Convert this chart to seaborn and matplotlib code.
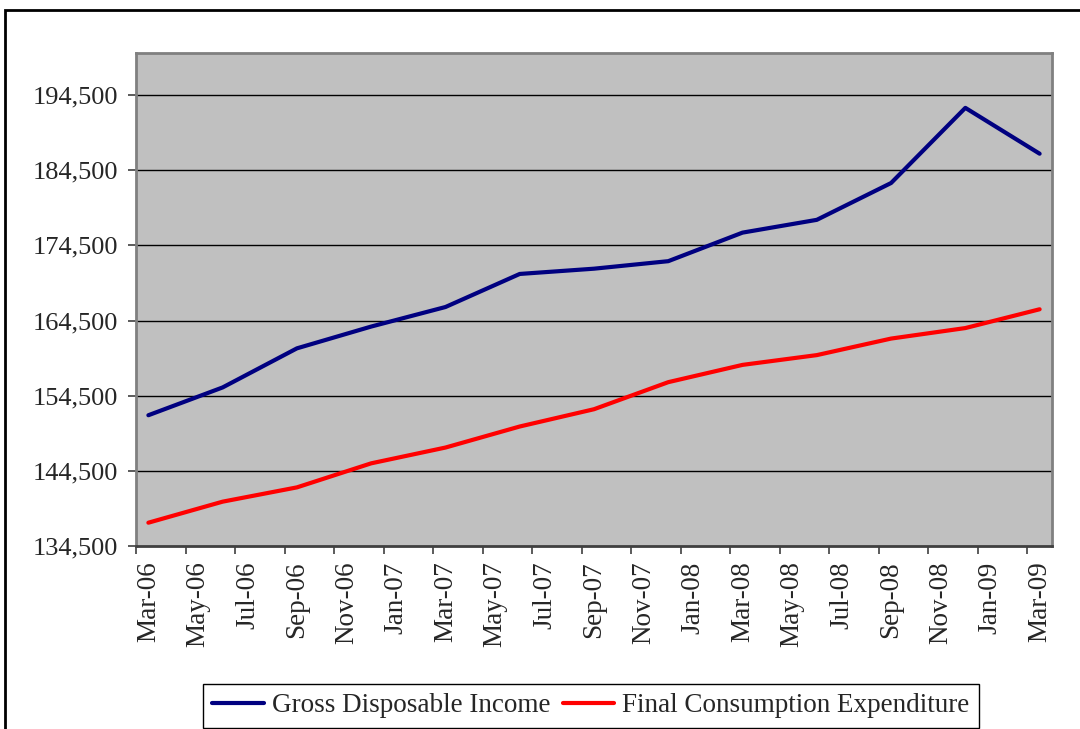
import matplotlib
matplotlib.use("Agg")
import matplotlib.pyplot as plt
import matplotlib.patches as mpatches
import seaborn as sns
import pandas as pd
import numpy as np

# ---- data ----
quarters = ["Mar-06", "Jun-06", "Sep-06", "Dec-06", "Mar-07", "Jun-07", "Sep-07",
            "Dec-07", "Mar-08", "Jun-08", "Sep-08", "Dec-08", "Mar-09"]
gross_disposable_income = [151900, 155600, 160800, 163700, 166300, 170700, 171400,
                           172400, 176200, 177900, 182800, 192800, 186700]
final_consumption_expenditure = [137600, 140400, 142300, 145500, 147600, 150400, 152700,
                                 156300, 158600, 159900, 162100, 163500, 166000]
tick_labels = ["Mar-06", "May-06", "Jul-06", "Sep-06", "Nov-06", "Jan-07", "Mar-07",
               "May-07", "Jul-07", "Sep-07", "Nov-07", "Jan-08", "Mar-08", "May-08",
               "Jul-08", "Sep-08", "Nov-08", "Jan-09", "Mar-09"]
y_ticks = [134500, 144500, 154500, 164500, 174500, 184500, 194500]
series_names = ["Gross Disposable Income", "Final Consumption Expenditure"]


def month_index(labels):
    d = pd.to_datetime(labels, format="%b-%y")
    return (d.year - 2006) * 12 + d.month - 3


xq = month_index(quarters)
df = pd.DataFrame({
    "x": np.concatenate([xq, xq]),
    "value": gross_disposable_income + final_consumption_expenditure,
    "series": [series_names[0]] * len(quarters) + [series_names[1]] * len(quarters),
})

sns.set_style("white")
plt.rcParams["font.family"] = ["Liberation Serif", "DejaVu Serif"]

fig = plt.figure(figsize=(10.8, 7.29), dpi=100)
ax = fig.add_axes([136 / 1080, 1 - 546 / 729, (1052 - 136) / 1080, (546 - 53) / 729])

sns.lineplot(data=df, x="x", y="value", hue="series", hue_order=series_names,
             palette=["#000080", "#FF0000"], linewidth=3.0, ax=ax, legend=True)

ax.set_facecolor("#C0C0C0")
ax.set_xlim(-0.5, 36.5)
ax.set_ylim(134500, 200100)
ax.set_yticks(y_ticks)
ax.set_yticklabels([f"{v:,}" for v in y_ticks])
xt = month_index(tick_labels)
ax.set_xticks(xt)
ax.set_xticklabels(tick_labels, rotation=90)
ax.set_xticks(np.arange(-0.5, 36, 2), minor=True)
ax.tick_params(axis="x", which="major", length=0, pad=11, labelsize=19.5)
ax.tick_params(axis="x", which="minor", length=6, width=1.2, color="#404040", direction="out", bottom=True)
ax.tick_params(axis="y", which="major", length=6, width=1.2, color="#404040", direction="out",
               left=True, pad=7, labelsize=19)
ax.set_xlabel("")
ax.set_ylabel("")
ax.grid(False)
for v in y_ticks[1:]:
    ax.axhline(v, color="black", linewidth=1.0, zorder=1)
for side in ["left", "right", "top", "bottom"]:
    ax.spines[side].set_visible(True)
    ax.spines[side].set_color("#808080")
    ax.spines[side].set_linewidth(2.0)
ax.spines["bottom"].set_color("#404040")

leg = ax.get_legend()
handles, labels = ax.get_legend_handles_labels()
leg.remove()
for h in handles:
    h.set_linewidth(3.0)
fig.legend(handles, labels, loc="lower center", bbox_to_anchor=(591 / 1080, 0.002),
           ncol=2, frameon=True, fancybox=False, edgecolor="black", framealpha=1,
           fontsize=19.5, handlelength=1.9, handletextpad=0.3, columnspacing=0.45,
           borderpad=0.35, borderaxespad=0)

# outer chart border
fig.patches.append(mpatches.Rectangle((5 / 1080, -0.1), 1.2, 1.1 - 10 / 729,
                                      transform=fig.transFigure, fill=False,
                                      edgecolor="black", linewidth=2.0))

fig.savefig("out.png", dpi=100)
